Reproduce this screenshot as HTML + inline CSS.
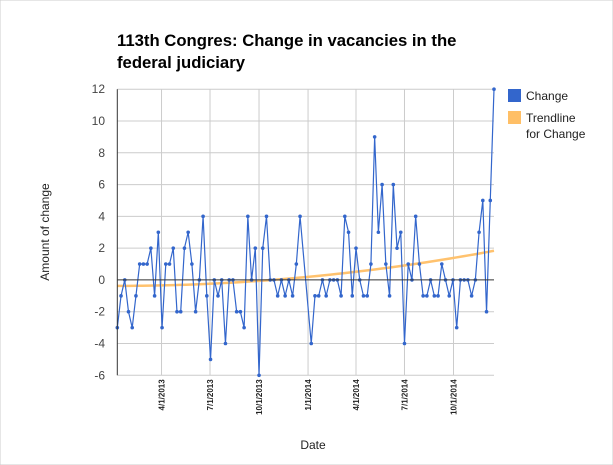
<!DOCTYPE html>
<html><head><meta charset="utf-8"><style>
body{margin:0;background:#fff;font-family:"Liberation Sans",Arial,sans-serif;}
</style></head><body>
<svg id="chart" width="613" height="465" xmlns="http://www.w3.org/2000/svg" style="display:block">
<rect width="613" height="465" fill="#fff" stroke="#ccc"/>
<text x="117" y="46" font-size="16.7" font-weight="bold" fill="#000">113th Congres: Change in vacancies in the</text>
<text x="117" y="68" font-size="16.7" font-weight="bold" fill="#000">federal judiciary</text>
<g id="grid"></g><g id="trend"></g><g id="series"></g><g id="axes"></g>
<g>
<rect x="508" y="89" width="13" height="13" fill="#3366cc"/>
<text x="526" y="100" font-size="12" fill="#222">Change</text>
<rect x="508" y="111" width="13" height="13" fill="#ffbf66"/>
<text x="526" y="122" font-size="12" fill="#222">Trendline</text>
<text x="526" y="138" font-size="12" fill="#222">for Change</text>
</g>
<text transform="translate(49,232) rotate(-90)" text-anchor="middle" font-size="12" fill="#222">Amount of change</text>
<text x="313" y="449" text-anchor="middle" font-size="12" fill="#222">Date</text>
</svg>
<script>
const weekIndex=[0,1,2,3,4,5,6,7,8,9,10,11,12,13,14,15,16,17,18,19,20,21,22,23,24,25,26,27,28,29,30,31,32,33,34,35,36,37,38,39,40,41,42,43,44,45,46,47,48,49,
52,53,54,55,56,57,58,59,60,61,62,63,64,65,66,67,68,69,70,71,72,73,74,75,76,77,78,79,80,81,82,83,84,85,86,87,88,89,90,91,92,93,94,95,96,97,98,99,100,101];
const changeValues=[-3,-1,0,-2,-3,-1,1,1,1,2,-1,3,-3,1,1,2,-2,-2,2,3,1,-2,0,4,-1,-5,0,-1,0,-4,0,0,-2,-2,-3,4,0,2,-6,2,4,0,0,-1,0,-1,0,-1,1,4,
-4,-1,-1,0,-1,0,0,0,-1,4,3,-1,2,0,-1,-1,1,9,3,6,1,-1,6,2,3,-4,1,0,4,1,-1,-1,0,-1,-1,1,0,-1,0,-3,0,0,0,-1,0,3,5,-2,5,12];
const yTicks=[12,10,8,6,4,2,0,-2,-4,-6];
const xTickDays=[90,181,273,365,455,546,638];
const xTickLabels=["4/1/2013","7/1/2013","10/1/2013","1/1/2014","4/1/2014","7/1/2014","10/1/2014"];

const NS="http://www.w3.org/2000/svg";
const L=117.3,R=494,T=89.2,B=375.3;
const dayOf=w=>7+7*w;
const xs=d=>L+(d-7)*(R-L)/707;
const ys=v=>B-(v+6)*(B-T)/18;
function mk(tag,attrs,parent){const e=document.createElementNS(NS,tag);for(const k in attrs)e.setAttribute(k,attrs[k]);document.getElementById(parent).appendChild(e);return e;}

yTicks.forEach(v=>{
 const l=mk('line',{x1:L,x2:R,y1:ys(v),y2:ys(v),stroke:v===0?'#333':'#ccc','stroke-width':1},v===0?'axes':'grid');
 
 
 const t=mk('text',{x:105,y:ys(v)+4,'text-anchor':'end','font-size':12,fill:'#444'},'axes');
 t.textContent=v;
 
 
});
xTickDays.forEach((d,i)=>{
 const l=mk('line',{x1:xs(d),x2:xs(d),y1:T,y2:B,stroke:'#ccc','stroke-width':1},'grid');
 
 
 const t=mk('text',{transform:`translate(${xs(d)+3},${B+4}) rotate(-90)`,'text-anchor':'end','font-size':8,'font-weight':'bold',fill:'#222'},'axes');
 t.textContent=xTickLabels[i];
 
 
});
const ax=mk('line',{x1:L,x2:L,y1:T,y2:B,stroke:'#333','stroke-width':1},'axes');



(function(){
 let S=[0,0,0,0,0],Sy=[0,0,0];
 weekIndex.forEach((w,i)=>{const x=dayOf(w)/700,y=changeValues[i];let p=1;for(let k=0;k<5;k++){S[k]+=p;if(k<3)Sy[k]+=p*y;p*=x;}});
 const A=[[S[0],S[1],S[2],Sy[0]],[S[1],S[2],S[3],Sy[1]],[S[2],S[3],S[4],Sy[2]]];
 for(let i=0;i<3;i++){for(let j=i+1;j<3;j++){const f=A[j][i]/A[i][i];for(let k=i;k<4;k++)A[j][k]-=f*A[i][k];}}
 const c=[0,0,0];for(let i=2;i>=0;i--){let s=A[i][3];for(let k=i+1;k<3;k++)s-=A[i][k]*c[k];c[i]=s/A[i][i];}
 let d='';const d0=dayOf(weekIndex[0]),d1=dayOf(weekIndex[weekIndex.length-1]);
 for(let k=0;k<=60;k++){const dd=d0+(d1-d0)*k/60,x=dd/700;const v=c[0]+c[1]*x+c[2]*x*x;d+=(k?'L':'M')+xs(dd).toFixed(2)+','+ys(v).toFixed(2);}
 const p=mk('path',{d:d,fill:'none',stroke:'#ffbf66','stroke-width':2.5,opacity:0.95},'trend');
 
 
})();

let pd='';
weekIndex.forEach((w,i)=>{pd+=(i?'L':'M')+xs(dayOf(w)).toFixed(2)+','+ys(changeValues[i]).toFixed(2);});
const line=mk('path',{d:pd,fill:'none',stroke:'#3366cc','stroke-width':1.2},'series');


weekIndex.forEach((w,i)=>{
 const c=mk('circle',{cx:xs(dayOf(w)),cy:ys(changeValues[i]),r:1.8,fill:'#3366cc'},'series');
 
 
});
</script>
</body></html>
